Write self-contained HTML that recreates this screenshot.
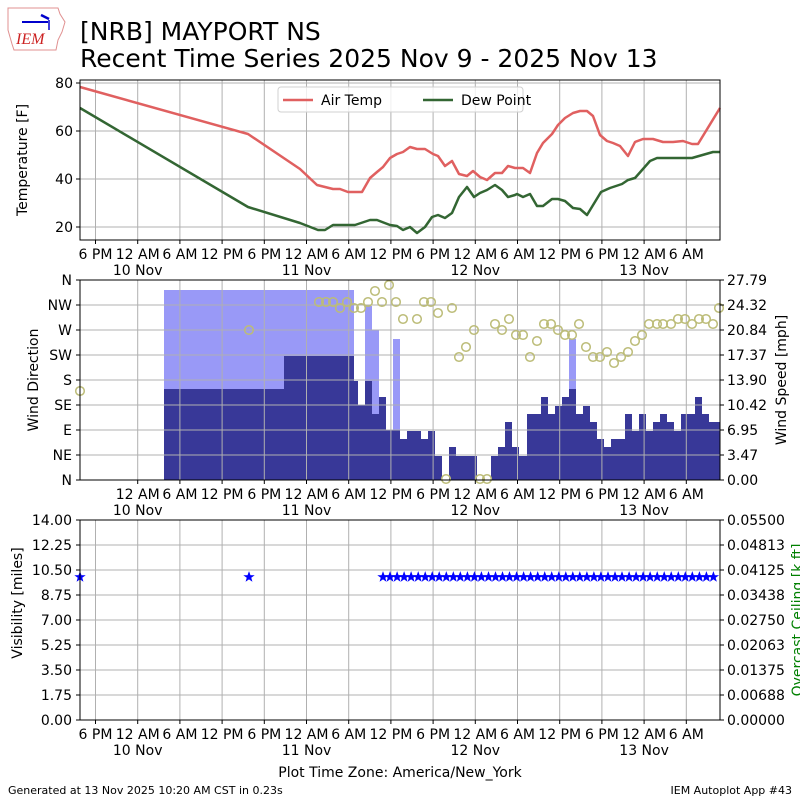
<!DOCTYPE html>
<html><head><meta charset="utf-8"><style>
html,body{margin:0;padding:0;background:#fff;}
svg{display:block;font-family:"DejaVu Sans","Liberation Sans",sans-serif;}
</style></head><body>
<svg width="800" height="800" viewBox="0 0 800 800" xmlns="http://www.w3.org/2000/svg">
<defs>
<path id="st" d="M0,-5 L1.2,-1.6 4.8,-1.5 1.9,0.6 2.9,4 0,2 -2.9,4 -1.9,0.6 -4.8,-1.5 -1.2,-1.6Z" fill="#0000ff" stroke="#0000ff" stroke-width="0.6"/>
<circle id="ci" r="4.3" fill="none" stroke="#bcbc78" stroke-width="1.5"/>
</defs>
<!-- logo -->
<path d="M8,8 L58,8 L60,14 L65,22 L62,32 L58,40 L56,50 L14,50 L12,44 L8,30 Z" fill="none" stroke="#e09090" stroke-width="1"/>
<line x1="22" y1="22" x2="48" y2="22" stroke="#0000cc" stroke-width="2"/>
<line x1="41" y1="15" x2="49" y2="19" stroke="#0000cc" stroke-width="2.5"/>
<line x1="49" y1="20" x2="49" y2="30" stroke="#0000cc" stroke-width="1.5"/>
<text x="16" y="44" font-family="Liberation Serif,serif" font-style="italic" font-size="16" fill="#cc2222">IEM</text>
<!-- title -->
<text x="80" y="40" font-size="25" fill="#000">[NRB] MAYPORT NS</text>
<text x="80" y="67" font-size="25" fill="#000">Recent Time Series 2025 Nov 9 - 2025 Nov 13</text>

<!-- ===== Panel 1 ===== -->
<g stroke="#b0b0b0" stroke-width="1">
<line x1="95.5" y1="80" x2="95.5" y2="240"/><line x1="137.7" y1="80" x2="137.7" y2="240"/><line x1="179.9" y1="80" x2="179.9" y2="240"/><line x1="222.1" y1="80" x2="222.1" y2="240"/><line x1="264.3" y1="80" x2="264.3" y2="240"/><line x1="306.5" y1="80" x2="306.5" y2="240"/><line x1="348.7" y1="80" x2="348.7" y2="240"/><line x1="390.9" y1="80" x2="390.9" y2="240"/><line x1="433.1" y1="80" x2="433.1" y2="240"/><line x1="475.3" y1="80" x2="475.3" y2="240"/><line x1="517.5" y1="80" x2="517.5" y2="240"/><line x1="559.7" y1="80" x2="559.7" y2="240"/><line x1="601.9" y1="80" x2="601.9" y2="240"/><line x1="644.1" y1="80" x2="644.1" y2="240"/><line x1="686.3" y1="80" x2="686.3" y2="240"/>
<line x1="80" y1="83" x2="720" y2="83"/><line x1="80" y1="131" x2="720" y2="131"/><line x1="80" y1="179" x2="720" y2="179"/><line x1="80" y1="227" x2="720" y2="227"/>
</g>
<polyline fill="none" stroke="#e06060" stroke-width="2.5" stroke-linejoin="round" points="80,87 248,134 300,169 317,185 333,189 340,189 348,192 362,192 370,178 377,172 383,167 390,158 397,154 403,152 410,147 417,149 425,149 433,154 438,156 445,166 452,161 459,174 467,176 473,171 480,177 487,180 495,173 502,173 508,166 515,168 517,168 523,168 530,173 537,153 543,143 552,134 558,125 565,118 573,113 580,111 587,111 593,116 600,135 607,141 613,143 620,146 628,156 635,142 643,139 653,139 663,142 673,142 683,141 692,144 698,144 720,108"/>
<polyline fill="none" stroke="#336633" stroke-width="2.5" stroke-linejoin="round" points="80,108 248,207 300,223 318,230 325,230 333,225 355,225 370,220 377,220 390,225 397,226 403,230 410,227 417,233 425,227 432,217 438,215 445,218 452,213 459,197 467,187 474,197 480,193 487,190 495,185 502,190 508,197 515,195 517,194 523,197 530,194 537,206 543,206 552,199 558,199 565,201 573,208 580,209 587,215 601,192 610,188 622,184 628,180 635,178 650,161 657,158 677,158 692,158 713,152 720,152"/>
<rect x="80" y="80" width="640" height="160" fill="none" stroke="#000" stroke-width="1"/>
<!-- legend -->
<rect x="278" y="87" width="245" height="25" rx="3" fill="#fff" fill-opacity="0.8" stroke="#d0d0d0"/>
<line x1="283" y1="100" x2="313" y2="100" stroke="#e06060" stroke-width="2.5"/>
<text x="321" y="105" font-size="14">Air Temp</text>
<line x1="423" y1="100" x2="453" y2="100" stroke="#336633" stroke-width="2.5"/>
<text x="461" y="105" font-size="14">Dew Point</text>
<!-- y ticks -->
<g stroke="#000"><line x1="76" y1="83" x2="80" y2="83"/><line x1="76" y1="131" x2="80" y2="131"/><line x1="76" y1="179" x2="80" y2="179"/><line x1="76" y1="227" x2="80" y2="227"/></g>
<g font-size="14" text-anchor="end"><text x="73" y="88">80</text><text x="73" y="136">60</text><text x="73" y="184">40</text><text x="73" y="232">20</text></g>
<text transform="translate(27,160) rotate(-90)" text-anchor="middle" font-size="14">Temperature [F]</text>
<!-- x ticks panel1 -->
<g stroke="#000"><line x1="95.5" y1="240" x2="95.5" y2="244"/><line x1="137.7" y1="240" x2="137.7" y2="244"/><line x1="179.9" y1="240" x2="179.9" y2="244"/><line x1="222.1" y1="240" x2="222.1" y2="244"/><line x1="264.3" y1="240" x2="264.3" y2="244"/><line x1="306.5" y1="240" x2="306.5" y2="244"/><line x1="348.7" y1="240" x2="348.7" y2="244"/><line x1="390.9" y1="240" x2="390.9" y2="244"/><line x1="433.1" y1="240" x2="433.1" y2="244"/><line x1="475.3" y1="240" x2="475.3" y2="244"/><line x1="517.5" y1="240" x2="517.5" y2="244"/><line x1="559.7" y1="240" x2="559.7" y2="244"/><line x1="601.9" y1="240" x2="601.9" y2="244"/><line x1="644.1" y1="240" x2="644.1" y2="244"/><line x1="686.3" y1="240" x2="686.3" y2="244"/></g>
<g font-size="14" text-anchor="middle">
<text x="95.5" y="259">6 PM</text><text x="137.7" y="259">12 AM</text><text x="179.9" y="259">6 AM</text><text x="222.1" y="259">12 PM</text><text x="264.3" y="259">6 PM</text><text x="306.5" y="259">12 AM</text><text x="348.7" y="259">6 AM</text><text x="390.9" y="259">12 PM</text><text x="433.1" y="259">6 PM</text><text x="475.3" y="259">12 AM</text><text x="517.5" y="259">6 AM</text><text x="559.7" y="259">12 PM</text><text x="601.9" y="259">6 PM</text><text x="644.1" y="259">12 AM</text><text x="686.3" y="259">6 AM</text>
<text x="137.7" y="275">10 Nov</text><text x="306.5" y="275">11 Nov</text><text x="475.3" y="275">12 Nov</text><text x="644.1" y="275">13 Nov</text>
</g>

<!-- ===== Panel 2 ===== -->
<g fill="#9999f7">
<rect x="164" y="290" width="190" height="190"/><rect x="365" y="306" width="7" height="174"/><rect x="372" y="330" width="7" height="150"/><rect x="393" y="339" width="7" height="141"/><rect x="569" y="339" width="7" height="141"/>
</g>
<g fill="#383898">
<rect x="164" y="389" width="120" height="91"/><rect x="284" y="356" width="70" height="124"/><rect x="354" y="381" width="4" height="99"/><rect x="358" y="405" width="7" height="75"/><rect x="365" y="381" width="7" height="99"/><rect x="372" y="414" width="7" height="66"/><rect x="379" y="397" width="7" height="83"/><rect x="386" y="430" width="14" height="50"/><rect x="400" y="439" width="7" height="41"/><rect x="407" y="431" width="14" height="49"/><rect x="421" y="439" width="7" height="41"/><rect x="428" y="431" width="7" height="49"/><rect x="435" y="456" width="7" height="24"/><rect x="449" y="447" width="7" height="33"/><rect x="456" y="456" width="21" height="24"/><rect x="491" y="456" width="7" height="24"/><rect x="498" y="447" width="7" height="33"/><rect x="505" y="422" width="7" height="58"/><rect x="512" y="447" width="7" height="33"/><rect x="519" y="456" width="8" height="24"/><rect x="527" y="414" width="14" height="66"/><rect x="541" y="397" width="7" height="83"/><rect x="548" y="414" width="7" height="66"/><rect x="555" y="406" width="7" height="74"/><rect x="562" y="397" width="7" height="83"/><rect x="569" y="389" width="7" height="91"/><rect x="576" y="414" width="7" height="66"/><rect x="583" y="406" width="7" height="74"/><rect x="590" y="422" width="7" height="58"/><rect x="597" y="439" width="7" height="41"/><rect x="604" y="447" width="7" height="33"/><rect x="611" y="439" width="14" height="41"/><rect x="625" y="414" width="7" height="66"/><rect x="632" y="431" width="7" height="49"/><rect x="639" y="414" width="7" height="66"/><rect x="646" y="431" width="7" height="49"/><rect x="653" y="422" width="7" height="58"/><rect x="660" y="414" width="7" height="66"/><rect x="667" y="422" width="7" height="58"/><rect x="674" y="431" width="7" height="49"/><rect x="681" y="414" width="14" height="66"/><rect x="695" y="397" width="7" height="83"/><rect x="702" y="414" width="7" height="66"/><rect x="709" y="422" width="11" height="58"/>
</g>
<g stroke="#b0b0b0" stroke-width="1">
<line x1="137.7" y1="280" x2="137.7" y2="480"/><line x1="179.9" y1="280" x2="179.9" y2="480"/><line x1="222.1" y1="280" x2="222.1" y2="480"/><line x1="264.3" y1="280" x2="264.3" y2="480"/><line x1="306.5" y1="280" x2="306.5" y2="480"/><line x1="348.7" y1="280" x2="348.7" y2="480"/><line x1="390.9" y1="280" x2="390.9" y2="480"/><line x1="433.1" y1="280" x2="433.1" y2="480"/><line x1="475.3" y1="280" x2="475.3" y2="480"/><line x1="517.5" y1="280" x2="517.5" y2="480"/><line x1="559.7" y1="280" x2="559.7" y2="480"/><line x1="601.9" y1="280" x2="601.9" y2="480"/><line x1="644.1" y1="280" x2="644.1" y2="480"/><line x1="686.3" y1="280" x2="686.3" y2="480"/>
<line x1="80" y1="305" x2="720" y2="305"/><line x1="80" y1="330" x2="720" y2="330"/><line x1="80" y1="355" x2="720" y2="355"/><line x1="80" y1="380" x2="720" y2="380"/><line x1="80" y1="405" x2="720" y2="405"/><line x1="80" y1="430" x2="720" y2="430"/><line x1="80" y1="455" x2="720" y2="455"/>
</g>
<g>
<use href="#ci" x="80" y="391"/><use href="#ci" x="249" y="330"/><use href="#ci" x="319" y="302"/><use href="#ci" x="326" y="302"/><use href="#ci" x="333" y="302"/><use href="#ci" x="340" y="308"/><use href="#ci" x="347" y="302"/><use href="#ci" x="354" y="308"/><use href="#ci" x="361" y="308"/><use href="#ci" x="368" y="302"/><use href="#ci" x="375" y="291"/><use href="#ci" x="382" y="302"/><use href="#ci" x="389" y="285"/><use href="#ci" x="396" y="302"/><use href="#ci" x="403" y="319"/><use href="#ci" x="417" y="319"/><use href="#ci" x="424" y="302"/><use href="#ci" x="431" y="302"/><use href="#ci" x="438" y="313"/><use href="#ci" x="446" y="479"/><use href="#ci" x="452" y="308"/><use href="#ci" x="459" y="357"/><use href="#ci" x="466" y="347"/><use href="#ci" x="474" y="330"/><use href="#ci" x="480" y="479"/><use href="#ci" x="487" y="479"/><use href="#ci" x="495" y="324"/><use href="#ci" x="502" y="330"/><use href="#ci" x="509" y="319"/><use href="#ci" x="516" y="335"/><use href="#ci" x="523" y="335"/><use href="#ci" x="530" y="357"/><use href="#ci" x="537" y="341"/><use href="#ci" x="544" y="324"/><use href="#ci" x="551" y="324"/><use href="#ci" x="558" y="330"/><use href="#ci" x="565" y="335"/><use href="#ci" x="572" y="335"/><use href="#ci" x="579" y="324"/><use href="#ci" x="586" y="347"/><use href="#ci" x="593" y="357"/><use href="#ci" x="600" y="357"/><use href="#ci" x="607" y="352"/><use href="#ci" x="614" y="363"/><use href="#ci" x="621" y="357"/><use href="#ci" x="628" y="352"/><use href="#ci" x="635" y="341"/><use href="#ci" x="642" y="335"/><use href="#ci" x="649" y="324"/><use href="#ci" x="657" y="324"/><use href="#ci" x="663" y="324"/><use href="#ci" x="671" y="324"/><use href="#ci" x="678" y="319"/><use href="#ci" x="685" y="319"/><use href="#ci" x="692" y="324"/><use href="#ci" x="699" y="319"/><use href="#ci" x="706" y="319"/><use href="#ci" x="713" y="324"/><use href="#ci" x="719" y="308"/>
</g>
<rect x="80" y="280" width="640" height="200" fill="none" stroke="#000" stroke-width="1"/>
<g stroke="#000"><line x1="76" y1="280" x2="80" y2="280"/><line x1="76" y1="305" x2="80" y2="305"/><line x1="76" y1="330" x2="80" y2="330"/><line x1="76" y1="355" x2="80" y2="355"/><line x1="76" y1="380" x2="80" y2="380"/><line x1="76" y1="405" x2="80" y2="405"/><line x1="76" y1="430" x2="80" y2="430"/><line x1="76" y1="455" x2="80" y2="455"/><line x1="76" y1="480" x2="80" y2="480"/>
<line x1="720" y1="280" x2="724" y2="280"/><line x1="720" y1="305" x2="724" y2="305"/><line x1="720" y1="330" x2="724" y2="330"/><line x1="720" y1="355" x2="724" y2="355"/><line x1="720" y1="380" x2="724" y2="380"/><line x1="720" y1="405" x2="724" y2="405"/><line x1="720" y1="430" x2="724" y2="430"/><line x1="720" y1="455" x2="724" y2="455"/><line x1="720" y1="480" x2="724" y2="480"/></g>
<g font-size="14" text-anchor="end"><text x="72" y="285">N</text><text x="72" y="310">NW</text><text x="72" y="335">W</text><text x="72" y="360">SW</text><text x="72" y="385">S</text><text x="72" y="410">SE</text><text x="72" y="435">E</text><text x="72" y="460">NE</text><text x="72" y="485">N</text></g>
<g font-size="14"><text x="727" y="285">27.79</text><text x="727" y="310">24.32</text><text x="727" y="335">20.84</text><text x="727" y="360">17.37</text><text x="727" y="385">13.90</text><text x="727" y="410">10.42</text><text x="727" y="435">6.95</text><text x="727" y="460">3.47</text><text x="727" y="485">0.00</text></g>
<text transform="translate(38,380) rotate(-90)" text-anchor="middle" font-size="14">Wind Direction</text>
<text transform="translate(786,380) rotate(-90)" text-anchor="middle" font-size="14">Wind Speed [mph]</text>
<g stroke="#000"><line x1="137.7" y1="480" x2="137.7" y2="484"/><line x1="179.9" y1="480" x2="179.9" y2="484"/><line x1="222.1" y1="480" x2="222.1" y2="484"/><line x1="264.3" y1="480" x2="264.3" y2="484"/><line x1="306.5" y1="480" x2="306.5" y2="484"/><line x1="348.7" y1="480" x2="348.7" y2="484"/><line x1="390.9" y1="480" x2="390.9" y2="484"/><line x1="433.1" y1="480" x2="433.1" y2="484"/><line x1="475.3" y1="480" x2="475.3" y2="484"/><line x1="517.5" y1="480" x2="517.5" y2="484"/><line x1="559.7" y1="480" x2="559.7" y2="484"/><line x1="601.9" y1="480" x2="601.9" y2="484"/><line x1="644.1" y1="480" x2="644.1" y2="484"/><line x1="686.3" y1="480" x2="686.3" y2="484"/></g>
<g font-size="14" text-anchor="middle">
<text x="137.7" y="499">12 AM</text><text x="179.9" y="499">6 AM</text><text x="222.1" y="499">12 PM</text><text x="264.3" y="499">6 PM</text><text x="306.5" y="499">12 AM</text><text x="348.7" y="499">6 AM</text><text x="390.9" y="499">12 PM</text><text x="433.1" y="499">6 PM</text><text x="475.3" y="499">12 AM</text><text x="517.5" y="499">6 AM</text><text x="559.7" y="499">12 PM</text><text x="601.9" y="499">6 PM</text><text x="644.1" y="499">12 AM</text><text x="686.3" y="499">6 AM</text>
<text x="137.7" y="515">10 Nov</text><text x="306.5" y="515">11 Nov</text><text x="475.3" y="515">12 Nov</text><text x="644.1" y="515">13 Nov</text>
</g>

<!-- ===== Panel 3 ===== -->
<g stroke="#b0b0b0" stroke-width="1">
<line x1="95.5" y1="520" x2="95.5" y2="720"/><line x1="137.7" y1="520" x2="137.7" y2="720"/><line x1="179.9" y1="520" x2="179.9" y2="720"/><line x1="222.1" y1="520" x2="222.1" y2="720"/><line x1="264.3" y1="520" x2="264.3" y2="720"/><line x1="306.5" y1="520" x2="306.5" y2="720"/><line x1="348.7" y1="520" x2="348.7" y2="720"/><line x1="390.9" y1="520" x2="390.9" y2="720"/><line x1="433.1" y1="520" x2="433.1" y2="720"/><line x1="475.3" y1="520" x2="475.3" y2="720"/><line x1="517.5" y1="520" x2="517.5" y2="720"/><line x1="559.7" y1="520" x2="559.7" y2="720"/><line x1="601.9" y1="520" x2="601.9" y2="720"/><line x1="644.1" y1="520" x2="644.1" y2="720"/><line x1="686.3" y1="520" x2="686.3" y2="720"/>
<line x1="80" y1="545" x2="720" y2="545"/><line x1="80" y1="570" x2="720" y2="570"/><line x1="80" y1="595" x2="720" y2="595"/><line x1="80" y1="620" x2="720" y2="620"/><line x1="80" y1="645" x2="720" y2="645"/><line x1="80" y1="670" x2="720" y2="670"/><line x1="80" y1="695" x2="720" y2="695"/>
</g>
<g>
<use href="#st" x="80" y="577"/><use href="#st" x="249" y="577"/>
<use href="#st" x="383" y="577"/><use href="#st" x="390" y="577"/><use href="#st" x="397.1" y="577"/><use href="#st" x="404.1" y="577"/><use href="#st" x="411.1" y="577"/><use href="#st" x="418.2" y="577"/><use href="#st" x="425.2" y="577"/><use href="#st" x="432.2" y="577"/><use href="#st" x="439.2" y="577"/><use href="#st" x="446.3" y="577"/><use href="#st" x="453.3" y="577"/><use href="#st" x="460.3" y="577"/><use href="#st" x="467.4" y="577"/><use href="#st" x="474.4" y="577"/><use href="#st" x="481.4" y="577"/><use href="#st" x="488.5" y="577"/><use href="#st" x="495.5" y="577"/><use href="#st" x="502.5" y="577"/><use href="#st" x="509.5" y="577"/><use href="#st" x="516.6" y="577"/><use href="#st" x="523.6" y="577"/><use href="#st" x="530.6" y="577"/><use href="#st" x="537.7" y="577"/><use href="#st" x="544.7" y="577"/><use href="#st" x="551.7" y="577"/><use href="#st" x="558.8" y="577"/><use href="#st" x="565.8" y="577"/><use href="#st" x="572.8" y="577"/><use href="#st" x="579.8" y="577"/><use href="#st" x="586.9" y="577"/><use href="#st" x="593.9" y="577"/><use href="#st" x="600.9" y="577"/><use href="#st" x="608" y="577"/><use href="#st" x="615" y="577"/><use href="#st" x="622" y="577"/><use href="#st" x="629.1" y="577"/><use href="#st" x="636.1" y="577"/><use href="#st" x="643.1" y="577"/><use href="#st" x="650.1" y="577"/><use href="#st" x="657.2" y="577"/><use href="#st" x="664.2" y="577"/><use href="#st" x="671.2" y="577"/><use href="#st" x="678.3" y="577"/><use href="#st" x="685.3" y="577"/><use href="#st" x="692.3" y="577"/><use href="#st" x="699.4" y="577"/><use href="#st" x="706.4" y="577"/><use href="#st" x="713.4" y="577"/>
</g>
<rect x="80" y="520" width="640" height="200" fill="none" stroke="#000" stroke-width="1"/>
<g stroke="#000"><line x1="76" y1="520" x2="80" y2="520"/><line x1="76" y1="545" x2="80" y2="545"/><line x1="76" y1="570" x2="80" y2="570"/><line x1="76" y1="595" x2="80" y2="595"/><line x1="76" y1="620" x2="80" y2="620"/><line x1="76" y1="645" x2="80" y2="645"/><line x1="76" y1="670" x2="80" y2="670"/><line x1="76" y1="695" x2="80" y2="695"/><line x1="76" y1="720" x2="80" y2="720"/>
<line x1="720" y1="520" x2="724" y2="520"/><line x1="720" y1="545" x2="724" y2="545"/><line x1="720" y1="570" x2="724" y2="570"/><line x1="720" y1="595" x2="724" y2="595"/><line x1="720" y1="620" x2="724" y2="620"/><line x1="720" y1="645" x2="724" y2="645"/><line x1="720" y1="670" x2="724" y2="670"/><line x1="720" y1="695" x2="724" y2="695"/><line x1="720" y1="720" x2="724" y2="720"/>
<line x1="95.5" y1="720" x2="95.5" y2="724"/><line x1="137.7" y1="720" x2="137.7" y2="724"/><line x1="179.9" y1="720" x2="179.9" y2="724"/><line x1="222.1" y1="720" x2="222.1" y2="724"/><line x1="264.3" y1="720" x2="264.3" y2="724"/><line x1="306.5" y1="720" x2="306.5" y2="724"/><line x1="348.7" y1="720" x2="348.7" y2="724"/><line x1="390.9" y1="720" x2="390.9" y2="724"/><line x1="433.1" y1="720" x2="433.1" y2="724"/><line x1="475.3" y1="720" x2="475.3" y2="724"/><line x1="517.5" y1="720" x2="517.5" y2="724"/><line x1="559.7" y1="720" x2="559.7" y2="724"/><line x1="601.9" y1="720" x2="601.9" y2="724"/><line x1="644.1" y1="720" x2="644.1" y2="724"/><line x1="686.3" y1="720" x2="686.3" y2="724"/></g>
<g font-size="14" text-anchor="end"><text x="72" y="525">14.00</text><text x="72" y="550">12.25</text><text x="72" y="575">10.50</text><text x="72" y="600">8.75</text><text x="72" y="625">7.00</text><text x="72" y="650">5.25</text><text x="72" y="675">3.50</text><text x="72" y="700">1.75</text><text x="72" y="725">0.00</text></g>
<g font-size="14"><text x="727" y="525">0.05500</text><text x="727" y="550">0.04813</text><text x="727" y="575">0.04125</text><text x="727" y="600">0.03438</text><text x="727" y="625">0.02750</text><text x="727" y="650">0.02063</text><text x="727" y="675">0.01375</text><text x="727" y="700">0.00688</text><text x="727" y="725">0.00000</text></g>
<text transform="translate(22,603) rotate(-90)" text-anchor="middle" font-size="14">Visibility [miles]</text>
<text transform="translate(802,620) rotate(-90)" text-anchor="middle" font-size="14" fill="#008000">Overcast Ceiling [k ft]</text>
<g font-size="14" text-anchor="middle">
<text x="95.5" y="739">6 PM</text><text x="137.7" y="739">12 AM</text><text x="179.9" y="739">6 AM</text><text x="222.1" y="739">12 PM</text><text x="264.3" y="739">6 PM</text><text x="306.5" y="739">12 AM</text><text x="348.7" y="739">6 AM</text><text x="390.9" y="739">12 PM</text><text x="433.1" y="739">6 PM</text><text x="475.3" y="739">12 AM</text><text x="517.5" y="739">6 AM</text><text x="559.7" y="739">12 PM</text><text x="601.9" y="739">6 PM</text><text x="644.1" y="739">12 AM</text><text x="686.3" y="739">6 AM</text>
<text x="137.7" y="755">10 Nov</text><text x="306.5" y="755">11 Nov</text><text x="475.3" y="755">12 Nov</text><text x="644.1" y="755">13 Nov</text>
<text x="400" y="777">Plot Time Zone: America/New_York</text>
</g>
<text x="8" y="794" font-size="11">Generated at 13 Nov 2025 10:20 AM CST in 0.23s</text>
<text x="792" y="794" font-size="11" text-anchor="end">IEM Autoplot App #43</text>
</svg>
</body></html>
